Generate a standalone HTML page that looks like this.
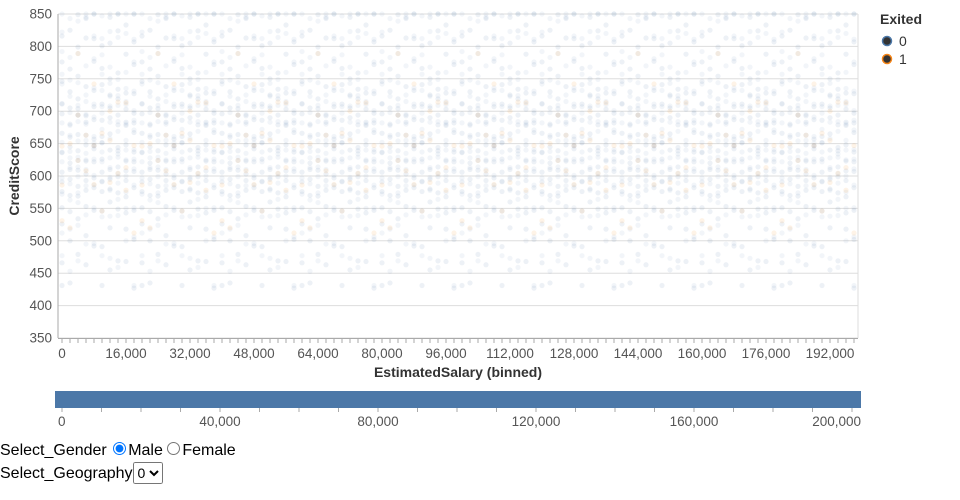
<!DOCTYPE html>
<html><head><meta charset="utf-8">
<style>
body{margin:0;background:#fff;width:960px;height:500px;overflow:hidden;font-family:"Liberation Sans","DejaVu Sans",sans-serif;}
#chart{position:absolute;left:0;top:0;}
#form{position:absolute;left:0;top:440px;font-size:16px;color:#000;line-height:22px;}
select{font-size:14px;height:22px;}
</style></head><body>
<svg id="chart" width="960" height="435" xmlns="http://www.w3.org/2000/svg" font-family="Liberation Sans, DejaVu Sans, sans-serif"></svg>
<div id="form">
<div>Select_Gender <input type="radio" name="g" checked style="margin:0 2px 0 2px">Male <input type="radio" name="g" style="margin:0 2px 0 0">Female</div>
<div>Select_Geography<select><option>0</option></select></div>
</div>
<script>
const yTicks=[350,400,450,500,550,600,650,700,750,800,850];
const xTickLabels=[0,16000,32000,48000,64000,80000,96000,112000,128000,144000,160000,176000,192000];
const brushTicks=[0,40000,80000,120000,160000,200000];
const binStep=2000;
const nBins=100;
// scores per bin (exited = 0), one string per group of bins cycling
const scores0=["620 680 540 710 590 650 760 480 830 565 725 605 445 790","700 560 630 820 600 670 515 745 585 690 850 470 655 610","580 640 690 520 750 610 805 455 665 725 560 595 845 705","660 720 600 540 800 630 690 495 575 765 615 845 420 675","610 570 680 740 650 520 785 465 625 705 595 835 555 690","640 700 590 620 780 560 505 725 665 815 445 675 605 755","690 630 550 710 600 840 475 655 575 735 615 795 525 685","570 660 620 730 680 500 610 825 545 705 645 765 435 595","650 590 700 640 770 540 485 615 725 845 575 680 635 805","600 680 720 560 630 810 455 665 585 745 705 535 850 625"];
const scores1=["600 660 545","700 590","580 640 735","650 520","620 720 585","560 680","680 610 775","640 505","590 700 655","670 615"];
const NS="http://www.w3.org/2000/svg";
const svg=document.getElementById('chart');
const L=58,R=858,T=14,B=338;
const y=v=>B-(v-350)*(B-T)/500;
const bw=(R-L)/nBins;
const xb=i=>L+bw*(i+0.5);
function mk(tag,attrs,parent){const e=document.createElementNS(NS,tag);for(const k in attrs)e.setAttribute(k,attrs[k]);(parent||svg).appendChild(e);return e;}
yTicks.forEach(v=>{
 const g=mk('line',{x1:L,x2:R,y1:y(v),y2:y(v),stroke:'#ddd'});
 
 
 const t=mk('text',{x:L-6,y:y(v)+4.5,'text-anchor':'end','font-size':13.5,fill:'#555'});
 t.textContent=v;
 
 
});
for(let i=0;i<nBins;i++){
 const s0=scores0[(i*7)%scores0.length].split(' ').map(Number);
 const off=((i*37)%5-2)*7;
 s0.forEach(v=>{const c=mk('circle',{cx:xb(i),cy:y(Math.min(850,v+off)),r:2.6,fill:'#4c78a8','fill-opacity':0.1});
  
  });
 s0.forEach(v=>{const c=mk('circle',{cx:xb(i),cy:y(Math.min(850,v-off+18)),r:2.6,fill:'#4c78a8','fill-opacity':0.07});
  
  });
 const s1=scores1[(i*3)%scores1.length].split(' ').map(Number);
 s1.forEach(v=>{const c=mk('circle',{cx:xb(i),cy:y(v+off),r:2.6,fill:'#f58518','fill-opacity':0.1});
  
  });
}
const ax=mk('line',{x1:L,x2:L,y1:T,y2:B,stroke:'#aaa'});

const bx=mk('line',{x1:L,x2:R,y1:B+0.5,y2:B+0.5,stroke:'#aaa'});

const rx=mk('line',{x1:R,x2:R,y1:T,y2:B,stroke:'#ddd'});

for(let i=0;i<nBins;i++){const tk=mk('line',{x1:xb(i),x2:xb(i),y1:B,y2:B+5,stroke:'#aaa'});
 }
xTickLabels.forEach(v=>{const t=mk('text',{x:xb(v/binStep),y:B+20,'text-anchor':'middle','font-size':13.5,fill:'#555'});
 t.textContent=v.toLocaleString('en-US');
 });
let t=mk('text',{x:458,y:377,'text-anchor':'middle','font-size':14,'font-weight':'bold',fill:'#333'});
t.textContent='EstimatedSalary (binned)';
t=mk('text',{x:0,y:0,'text-anchor':'middle','font-size':14,'font-weight':'bold',fill:'#333',transform:'translate(19,176) rotate(-90)'});
t.textContent='CreditScore';
t=mk('text',{x:880,y:24,'font-size':14,'font-weight':'bold',fill:'#333'});
t.textContent='Exited';
[['0','#4c78a8',41],['1','#f58518',59]].forEach(([lab,col,yy])=>{
 const c=mk('circle',{cx:887,cy:yy,r:4.5,fill:'#333',stroke:col,'stroke-width':1.5});
 
 const tt=mk('text',{x:899,y:yy+5,'font-size':14,fill:'#333'});tt.textContent=lab;
 
});
const bL=62,bR=852,bT=391,bB=408;
const bxs=v=>bL+(bR-bL)*v/200000;
const br=mk('rect',{x:55,y:bT,width:806,height:bB-bT,fill:'#4c78a8'});

for(let v=0;v<=200000;v+=10000){const tk=mk('line',{x1:bxs(v),x2:bxs(v),y1:bB,y2:bB+4,stroke:'#aaa'});
 }
brushTicks.forEach((v,i)=>{const tt=mk('text',{x:i==0?bxs(v)-4:(i==brushTicks.length-1?861:bxs(v)),y:426,'text-anchor':i==0?'start':(i==brushTicks.length-1?'end':'middle'),'font-size':13.5,fill:'#555'});
 tt.textContent=v.toLocaleString('en-US');
 });
</script>
</body></html>
